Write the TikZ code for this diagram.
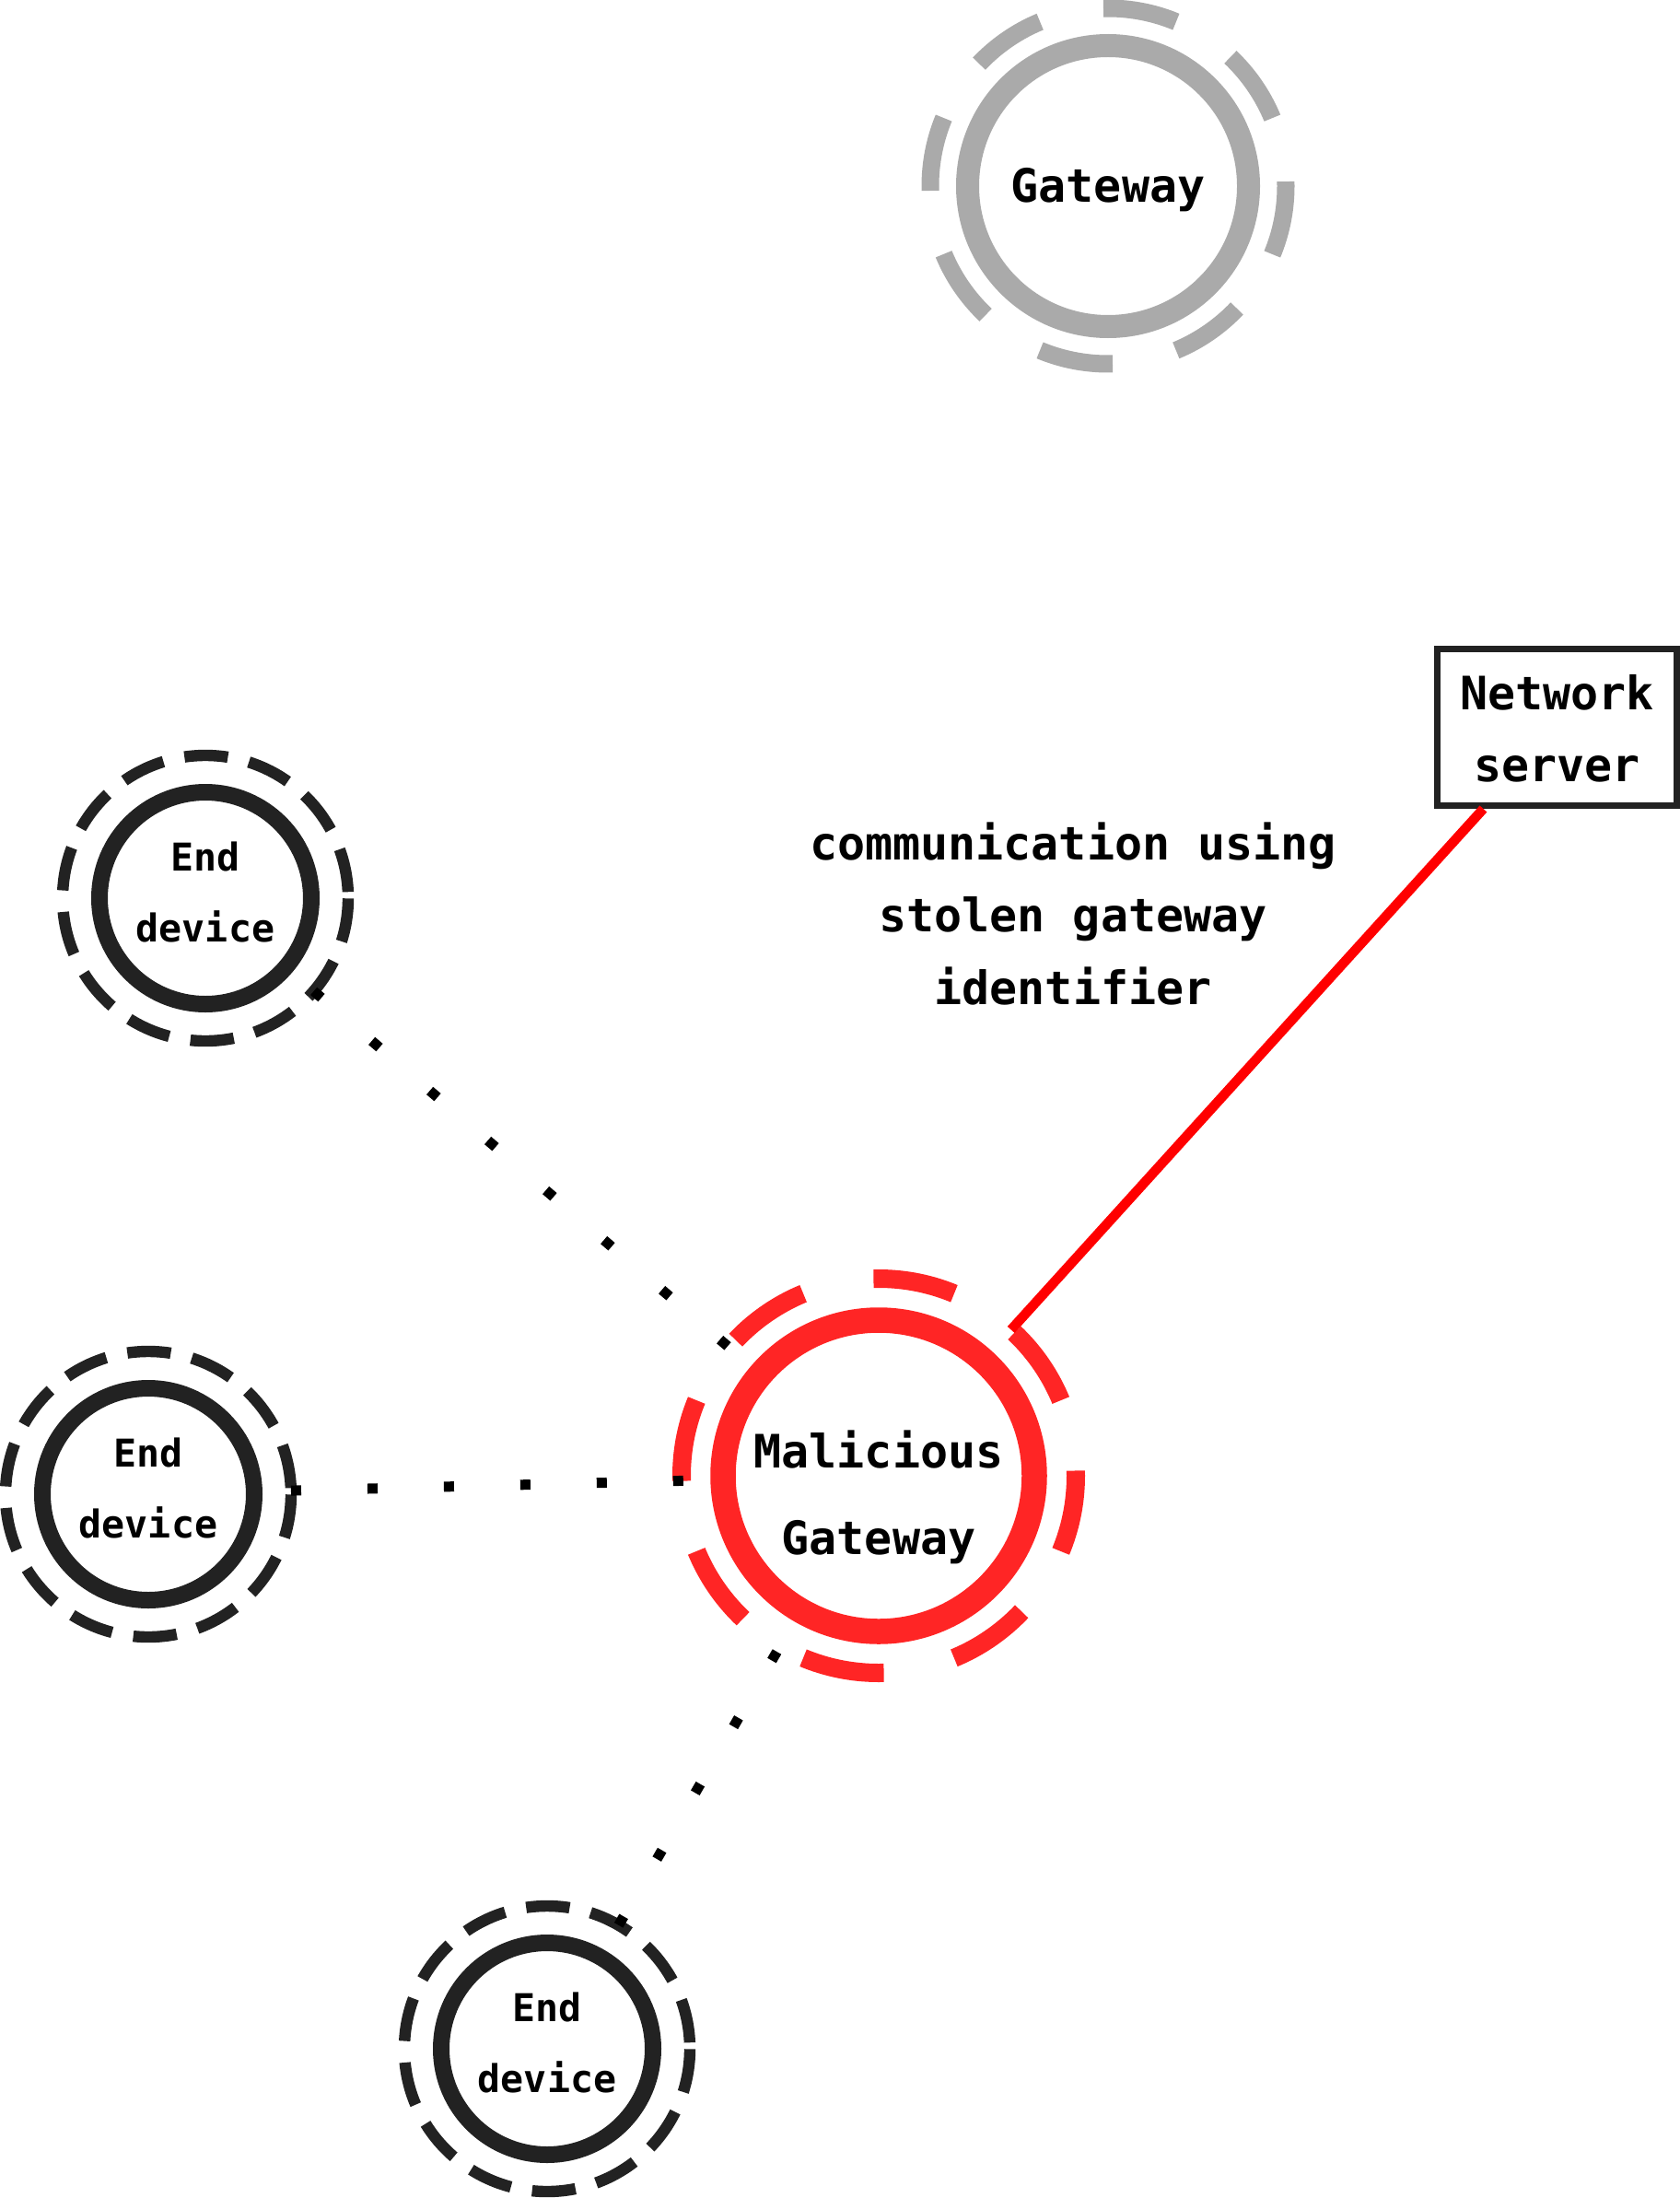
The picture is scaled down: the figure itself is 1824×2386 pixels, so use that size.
\documentclass[tikz,border=0pt]{standalone}
\usepackage{fontspec}
\newfontfamily\dvmono{DejaVu Sans Mono}
\definecolor{gwgray}{HTML}{AAAAAA}
\definecolor{mgred}{HTML}{FF2525}
\definecolor{linered}{HTML}{FF0000}
\definecolor{dark}{HTML}{222222}
\newcommand{\topstrut}{\rule{0pt}{22pt}}
\begin{document}
\begin{tikzpicture}[x=0.5pt,y=-0.5pt,
  ringbase/.style={circle, inner sep=0pt, outer sep=0pt},
  edring/.style={ringbase, draw=dark, line width=6.2pt, minimum size=155pt,
    dash pattern=on 23.67pt off 11.70pt, dash phase=31.99pt},
  edcore/.style={circle, draw=dark, fill=white, line width=9pt, minimum size=115pt, inner sep=0pt},
  gwring/.style={ringbase, rotate=1.5, draw=gwgray, line width=9.5pt, minimum size=193pt,
    dash pattern=on 40.42pt off 35.37pt, dash phase=40.42pt},
  gwcore/.style={circle, draw=gwgray, fill=white, line width=12.5pt, minimum size=152.5pt, inner sep=0pt},
  mgring/.style={ringbase, rotate=1.5, draw=mgred, line width=10pt, minimum size=214pt,
    dash pattern=on 44.82pt off 39.22pt, dash phase=44.82pt},
  mgcore/.style={circle, draw=mgred, fill=white, line width=13.75pt, minimum size=169pt, inner sep=0pt},
  serverbox/.style={rectangle, draw=dark, fill=white, line width=3.5pt, minimum width=130pt, minimum height=85pt, inner sep=0pt},
  bigtxt/.style={anchor=north, inner sep=0pt, outer sep=0pt, align=center,
    font=\dvmono\bfseries\fontsize{25pt}{39.25pt}\selectfont},
  mgtxt/.style={bigtxt, font=\dvmono\bfseries\fontsize{25pt}{47pt}\selectfont},
  smalltxt/.style={anchor=north, inner sep=0pt, outer sep=0pt, align=center,
    font=\dvmono\bfseries\fontsize{20.8pt}{38.5pt}\selectfont},
  dotline/.style={draw=black, line width=5.5pt, dash pattern=on 5.5pt off 36pt},
  redline/.style={draw=linered, line width=5.25pt}
]
\fill[white] (0,0) rectangle (1824,2386);
\useasboundingbox (0,0) rectangle (1824,2386);

% legitimate gateway
\node[gwring] (gw-ring) at (1203,202) {};
\node[gwcore] (gw) at (1203,202) {};
\node[bigtxt] (gw-text) at ([yshift=13pt]gw.center) {\topstrut Gateway};

% rings
\node[edring] (ed1-ring) at (223,975) {};
\node[edring] (ed2-ring) at (161,1622) {};
\node[edring] (ed3-ring) at (594,2224) {};
\node[mgring] (mg-ring) at (954,1602) {};

% network server
\node[serverbox] (ns) at (1690.5,789.5) {};

% connectors
\draw[redline] (ns) -- (mg-ring);
\draw[dotline] (ed1-ring) -- (mg-ring.center);
\draw[dotline] (ed2-ring) -- (mg-ring.center);
\draw[dotline] (ed3-ring) -- (mg-ring.center);

% cores
\node[edcore] (ed1) at (ed1-ring.center) {};
\node[edcore] (ed2) at (ed2-ring.center) {};
\node[edcore] (ed3) at (ed3-ring.center) {};
\node[mgcore] (mg) at (mg-ring.center) {};

% texts
\node[smalltxt] (ed1-text) at ([yshift=37pt]ed1.center) {\topstrut End\\device};
\node[smalltxt] (ed2-text) at ([yshift=37pt]ed2.center) {\topstrut End\\device};
\node[smalltxt] (ed3-text) at ([yshift=37pt]ed3.center) {\topstrut End\\device};
\node[mgtxt] (mg-text) at ([yshift=26.5pt]mg.center) {\topstrut Malicious\\Gateway};
\node[bigtxt] (ns-text) at ([yshift=31.75pt]ns.center) {\topstrut Network\\server};
\node[bigtxt] (label) at (1165,889) {\topstrut communication using\\stolen gateway\\identifier};
\end{tikzpicture}
\end{document}
